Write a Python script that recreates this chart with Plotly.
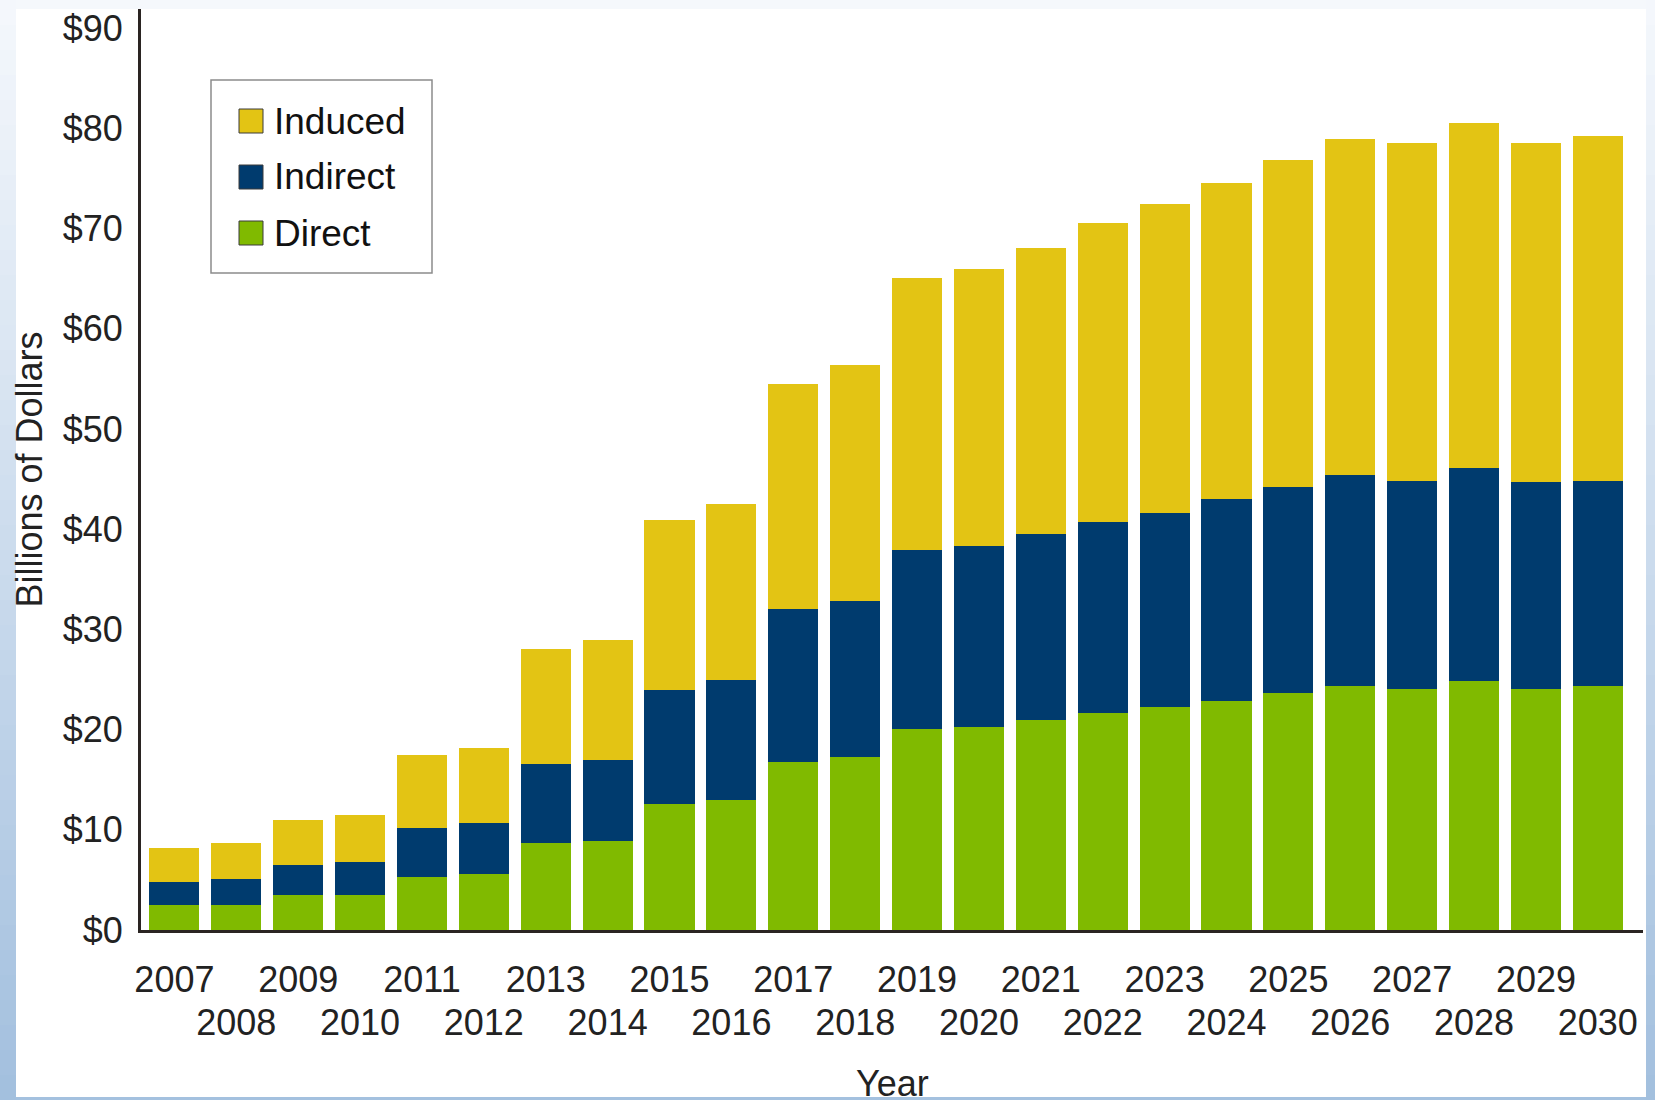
import plotly.graph_objects as go

# ---------------- data ----------------
years = [str(y) for y in range(2007, 2031)]
direct = [2.5, 2.5, 3.5, 3.5, 5.3, 5.55, 8.65, 8.9, 12.55, 13.0, 16.8, 17.3,
          20.1, 20.25, 21.0, 21.7, 22.3, 22.9, 23.6, 24.3, 24.05, 24.8, 24.05, 24.3]
indirect_top = [4.8, 5.1, 6.5, 6.75, 10.2, 10.7, 16.6, 17.0, 23.9, 24.9, 32.0, 32.8,
                37.9, 38.3, 39.5, 40.7, 41.6, 43.0, 44.2, 45.4, 44.8, 46.1, 44.7, 44.8]
total = [8.15, 8.65, 11.0, 11.5, 17.5, 18.2, 28.0, 28.9, 40.9, 42.5, 54.5, 56.4,
         65.1, 66.0, 68.1, 70.5, 72.4, 74.5, 76.8, 78.9, 78.5, 80.5, 78.5, 79.2]
indirect = [round(a - b, 2) for a, b in zip(indirect_top, direct)]
induced = [round(a - b, 2) for a, b in zip(total, indirect_top)]
series_names = ["Direct", "Indirect", "Induced"]
series_values = [direct, indirect, induced]
series_colors = ["#80BA00", "#003B6E", "#E3C414"]
y_ticks = list(range(0, 100, 10))

# ---------------- layout geometry ----------------
W, H = 1655, 1100
L, R, T, B = 141, 1643, 9, 930
FONT = "Liberation Sans, Arial, Helvetica, sans-serif"
TXT = "#222222"


def px2x(px):
    return (px - L) / (R - L)


def py2y(py):
    return (B - py) / (B - T)


x_idx = list(range(len(years)))
row1_vals = x_idx[0::2]
row1_text = years[0::2]
row2_vals = x_idx[1::2]
row2_text = years[1::2]

fig = go.Figure()
for name, vals, col in zip(series_names, series_values, series_colors):
    fig.add_trace(go.Bar(x=x_idx, y=vals, name=name, marker_color=col,
                         marker_line_width=0, showlegend=False))
# invisible helper trace so the second (staggered-label) x axis is drawn
fig.add_trace(go.Scatter(x=x_idx, y=[None] * len(x_idx), xaxis="x2", yaxis="y",
                         mode="markers", showlegend=False, hoverinfo="skip"))

shapes = []
# light-blue gradient frame around the white chart area
top_c = (0xF5, 0xF8, 0xFC)
bot_c = (0xA2, 0xBF, 0xDE)
nb = 44
for k in range(nb):
    t = (k + 0.5) / nb
    c = tuple(round(top_c[j] + (bot_c[j] - top_c[j]) * t) for j in range(3))
    col = "rgb(%d,%d,%d)" % c
    y0p, y1p = H * k / nb, H * (k + 1) / nb
    for (xa, xb) in [(0, 16), (1646, W)]:
        shapes.append(dict(type="rect", xref="paper", yref="paper",
                           x0=px2x(xa), x1=px2x(xb), y0=py2y(y1p), y1=py2y(y0p),
                           fillcolor=col, line_width=0, layer="above"))
shapes.append(dict(type="rect", xref="paper", yref="paper",
                   x0=px2x(16), x1=px2x(1646), y0=py2y(9), y1=py2y(0),
                   fillcolor="#F5F8FC", line_width=0, layer="above"))
shapes.append(dict(type="rect", xref="paper", yref="paper",
                   x0=px2x(16), x1=px2x(1646), y0=py2y(H), y1=py2y(1097),
                   fillcolor="#A4C1DF", line_width=0, layer="above"))

# legend box
shapes.append(dict(type="rect", xref="paper", yref="paper",
                   x0=px2x(211), x1=px2x(432), y0=py2y(273), y1=py2y(80),
                   fillcolor="white", line=dict(color="#8C8C8C", width=1.5),
                   layer="above"))
annotations = []
legend_order = ["Induced", "Indirect", "Direct"]
legend_y = [121, 177, 233]
for name, cy in zip(legend_order, legend_y):
    col = series_colors[series_names.index(name)]
    shapes.append(dict(type="rect", xref="paper", yref="paper",
                       x0=px2x(239), x1=px2x(263), y0=py2y(cy + 12), y1=py2y(cy - 12),
                       fillcolor=col, line=dict(color="#3A3A3A", width=1),
                       layer="above"))
    annotations.append(dict(text=name, xref="paper", yref="paper",
                            x=px2x(272), y=py2y(cy), xanchor="left", yanchor="middle",
                            showarrow=False, font=dict(family=FONT, size=37, color="#111111")))

# x-axis title (placed as annotation so it can sit partly under the frame)
annotations.append(dict(text="Year", xref="paper", yref="paper",
                        x=0.5, y=py2y(1061), xanchor="center", yanchor="top",
                        showarrow=False, font=dict(family=FONT, size=36, color=TXT)))

XR = [-0.54, 23.73]
fig.update_layout(
    width=W, height=H,
    margin=dict(l=L, r=W - R, t=T, b=H - B, pad=0, autoexpand=False),
    paper_bgcolor="white", plot_bgcolor="rgba(0,0,0,0)",
    barmode="stack", bargap=0.19,
    font=dict(family=FONT, size=36, color=TXT),
    shapes=shapes, annotations=annotations,
    showlegend=False,
    xaxis=dict(range=XR, tickmode="array", tickvals=row1_vals, ticktext=row1_text,
               tickangle=0, automargin=False,
               showgrid=False, zeroline=False, showline=True, linecolor="#2A2422",
               linewidth=3, ticks="", ticklabelstandoff=16,
               tickfont=dict(family=FONT, size=36, color=TXT)),
    xaxis2=dict(range=XR, overlaying="x", anchor="y", side="bottom",
                tickmode="array", tickvals=row2_vals, ticktext=row2_text,
                tickangle=0, automargin=False, showgrid=False, zeroline=False,
                showline=False, ticks="", ticklabelstandoff=68,
                tickfont=dict(family=FONT, size=36, color=TXT)),
    yaxis=dict(range=[0, 91.9], tickmode="array", tickvals=y_ticks,
               ticktext=["$%d" % v for v in y_ticks], automargin=False,
               showgrid=False, zeroline=False, showline=True, linecolor="#2A2422",
               linewidth=3, ticks="", ticklabelstandoff=8,
               tickfont=dict(family=FONT, size=36, color=TXT),
               title=dict(text="Billions of Dollars", standoff=10,
                          font=dict(family=FONT, size=36, color=TXT))),
)

fig.write_html("out.html")
